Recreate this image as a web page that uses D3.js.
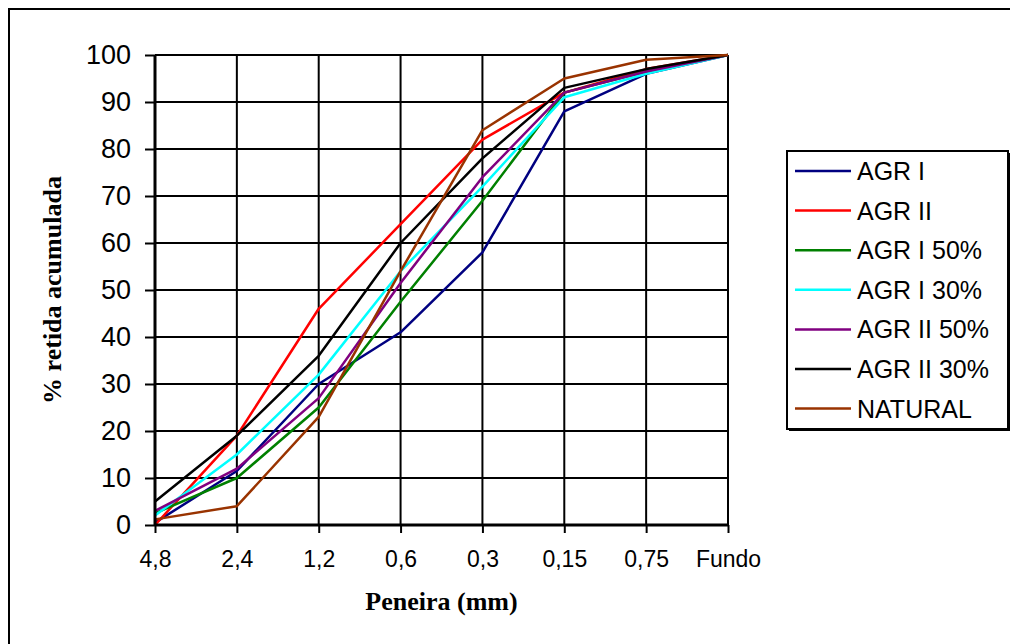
<!DOCTYPE html>
<html><head><meta charset="utf-8">
<script src="https://cdn.jsdelivr.net/npm/d3@7"></script>
<style>body{margin:0;background:#fff}svg{display:block}</style>
</head><body>
<svg id="c" width="1010" height="644"></svg>
<script>
const categories = ["4,8","2,4","1,2","0,6","0,3","0,15","0,75","Fundo"];
const yTicks = [0,10,20,30,40,50,60,70,80,90,100];
const seriesNames = ["AGR I","AGR II","AGR I 50%","AGR I 30%","AGR II 50%","AGR II 30%","NATURAL"];
const seriesColors = ["#000080","#FF0000","#008000","#00FFFF","#800080","#000000","#993300"];
const agrI      = [0.5, 11.5, 30, 41, 58, 88, 96, 100];
const agrII     = [0, 19, 46, 64, 82, 92, 97, 100];
const agrI50    = [2.5, 10, 25, 47.5, 69, 92, 96.5, 100];
const agrI30    = [2, 15, 32, 54, 72, 91, 96, 100];
const agrII50   = [3, 12, 27, 51.5, 74, 92, 96.5, 100];
const agrII30   = [5, 19, 36, 60, 78, 93, 97, 100];
const natural   = [1.2, 4, 23, 54, 84, 95, 99, 100];
const seriesValues = [agrI, agrII, agrI50, agrI30, agrII50, agrII30, natural];

const svg = d3.select("#c");
const L = 155, R = 728, T = 55, B = 525;
const x = d3.scalePoint().domain(categories).range([L, R]);
const y = d3.scaleLinear().domain([0, 100]).range([B, T]);

// outer frame
svg.append("rect").attr("x",9).attr("y",9).attr("width",1020).attr("height",660)
  .attr("fill","none").attr("stroke","#000").attr("stroke-width",2);

// gridlines
const g = svg.append("g");
g.selectAll("line.h").data(yTicks.slice(1)).join("line")
  .attr("x1",L).attr("x2",R).attr("y1",d=>y(d)).attr("y2",d=>y(d))
  .attr("stroke","#000").attr("stroke-width",2);
g.selectAll("line.v").data(categories.slice(1)).join("line")
  .attr("x1",d=>x(d)).attr("x2",d=>x(d)).attr("y1",T).attr("y2",B)
  .attr("stroke","#000").attr("stroke-width",2);

// series lines
const line = d3.line().x((d,i)=>x(categories[i])).y(d=>y(d));
svg.append("g").selectAll("path").data(seriesValues).join("path")
  .attr("d", d=>line(d)).attr("fill","none")
  .attr("stroke",(d,i)=>seriesColors[i]).attr("stroke-width",2.5)
  .attr("stroke-linejoin","round");

// axes
const yAxis = d3.axisLeft(y).tickValues(yTicks).tickSize(10).tickPadding(14).tickFormat(d3.format("d"));
const ya = svg.append("g").attr("transform",`translate(${L},0)`).call(yAxis);
ya.select(".domain").attr("stroke-width",3).attr("d",`M0,${T}V${B}`);
ya.selectAll(".tick line").attr("stroke-width",2);
ya.selectAll("text").attr("font-family","Arial, 'Liberation Sans', sans-serif").attr("font-size",27).attr("fill","#000");

const xAxis = d3.axisBottom(x).tickSize(8).tickPadding(18);
const xa = svg.append("g").attr("transform",`translate(0,${B})`).call(xAxis);
xa.select(".domain").attr("stroke-width",3).attr("d",`M${L},0H${R}`);
xa.selectAll(".tick line").attr("stroke-width",2);
xa.selectAll("text").attr("font-family","Arial, 'Liberation Sans', sans-serif").attr("font-size",23).attr("fill","#000");

// axis titles
svg.append("text").attr("x",(L+R)/2).attr("y",610).attr("text-anchor","middle")
  .attr("font-family","'Times New Roman', 'Liberation Serif', serif").attr("font-weight","bold")
  .attr("font-size",26).text("Peneira (mm)");
svg.append("text").attr("transform",`translate(61,${(T+B)/2}) rotate(-90)`).attr("text-anchor","middle")
  .attr("font-family","'Times New Roman', 'Liberation Serif', serif").attr("font-weight","bold")
  .attr("font-size",26).text("% retida acumulada");

// legend
const lg = svg.append("g");
lg.append("rect").attr("x",789).attr("y",153).attr("width",221).attr("height",278).attr("fill","#000");
lg.append("rect").attr("x",787).attr("y",151).attr("width",221).attr("height",278)
  .attr("fill","#fff").attr("stroke","#000").attr("stroke-width",2);
const items = lg.selectAll("g.it").data(seriesNames).join("g")
  .attr("transform",(d,i)=>`translate(0,${171 + i*39.6})`);
items.append("line").attr("x1",795).attr("x2",851).attr("y1",0).attr("y2",0)
  .attr("stroke",(d,i)=>seriesColors[i]).attr("stroke-width",2.5);
items.append("text").attr("x",857).attr("y",9).attr("font-family","Arial, 'Liberation Sans', sans-serif")
  .attr("font-size",25).text(d=>d);
</script>
</body></html>
